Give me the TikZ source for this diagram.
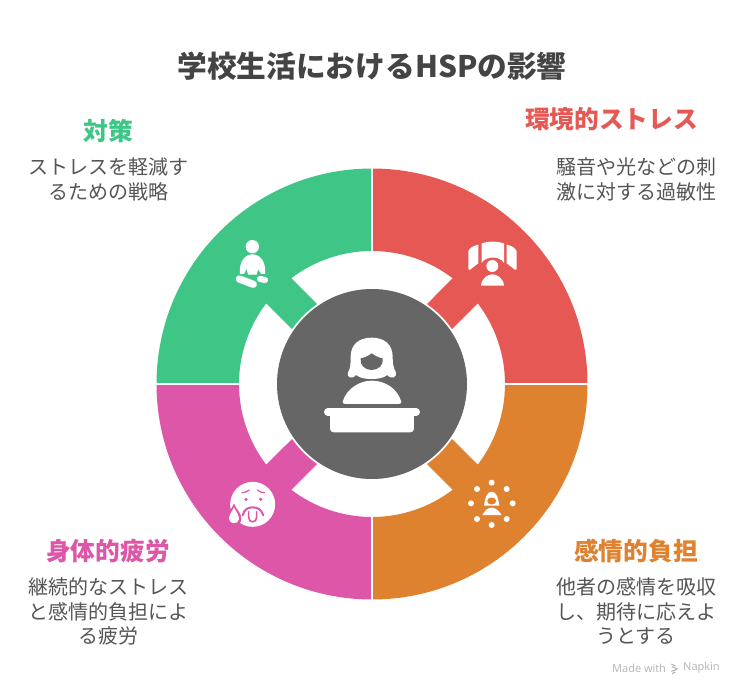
\documentclass[tikz,border=0pt]{standalone}
\usepackage{fontspec}
\setmainfont{Noto Sans CJK JP}
\newfontfamily\latinfont{Open Sans}
\definecolor{cred}{HTML}{E65853}
\definecolor{corange}{HTML}{DE8230}
\definecolor{cpink}{HTML}{DE56A8}
\definecolor{cgreen}{HTML}{3FC687}
\definecolor{cgrey}{HTML}{666666}
\definecolor{ctitle}{HTML}{444444}
\definecolor{cbody}{HTML}{555555}
\definecolor{cmark}{HTML}{B4B4B4}
\tikzset{
  titletext/.style={text=ctitle,font=\bfseries\fontsize{29.7}{36}\selectfont,inner sep=0pt},
  headtext/.style={font=\bfseries\fontsize{24.7}{30}\selectfont,inner sep=0pt},
  bodytext/.style={text=cbody,font=\fontsize{20}{24.5}\selectfont,align=center,inner sep=0pt},
  marktext/.style={text=cmark,font=\latinfont\fontsize{11}{14}\selectfont,inner sep=0pt},
  iconzoom/.style={x=0.3333pt,y=-0.3333pt}
}
\newcommand{\sectorshape}[2]{%
  \fill[#2] (#1:215.5) arc[start angle=#1,end angle=#1+90,radius=215.5]
    -- ({#1+90}:133) arc[start angle=#1+90,end angle=#1+52.65,radius=133]
    -- ({#1+55.5}:97) arc[start angle=#1+55.5,end angle=#1+34.5,radius=97]
    -- ({#1+37.35}:133) arc[start angle=#1+37.35,end angle=#1,radius=133] -- cycle;}
\begin{document}
\begin{tikzpicture}[x=1pt,y=-1pt]
\useasboundingbox (0,0) rectangle (744,696);
\fill[white] (0,0) rectangle (744,696);
% ring sectors
\begin{scope}[shift={(372,384)},y=1pt]
  \sectorshape{0}{cred}
  \sectorshape{90}{cgreen}
  \sectorshape{180}{cpink}
  \sectorshape{270}{corange}
\end{scope}
\draw[white,line width=2pt] (372,160) -- (372,608);
\draw[white,line width=2pt] (150,384) -- (594,384);
\fill[cgrey] (372,384) circle[radius=95];
% centre icon
\begin{scope}[shift={(310,325)},iconzoom]
  \fill[white] (185,38) .. controls (225,38) and (248,60) .. (248,95)
    .. controls (248,115) and (250,130) .. (258,142)
    .. controls (262,156) and (245,165) .. (232,150)
    .. controls (220,160) and (200,162) .. (185,162)
    .. controls (170,162) and (150,160) .. (138,150)
    .. controls (125,165) and (108,156) .. (114,142)
    .. controls (122,130) and (122,115) .. (122,95)
    .. controls (122,60) and (145,38) .. (185,38) -- cycle;
  \fill[cgrey] (185,85) .. controls (175,92) and (165,98) .. (152,100)
    .. controls (148,120) and (165,135) .. (185,135)
    .. controls (205,135) and (222,120) .. (218,100)
    .. controls (205,98) and (195,92) .. (185,85) -- cycle;
  \fill[white] (98,230) .. controls (110,190) and (150,167) .. (185,167)
    .. controls (225,167) and (262,190) .. (274,230)
    .. controls (275,235) and (270,237) .. (265,237) -- (107,237)
    .. controls (102,237) and (97,235) .. (98,230) -- cycle;
  \draw[white,line width=7.3pt,line cap=round] (53,261) -- (319,261);
  \fill[white,rounded corners=3.5pt] (60,258) rectangle (312,322);
\end{scope}
% meditation icon
\begin{scope}[shift={(220,230)},iconzoom]
  \fill[white] (97,50) circle[radius=6.7pt];
  \fill[white] (60,132) .. controls (56,95) and (75,73) .. (97,73)
    .. controls (120,73) and (139,95) .. (135,132)
    -- (124,132) -- (114,118) -- (110,134) -- (84,134) -- (80,116) -- (72,132) -- cycle;
  \draw[white,line width=7.3pt,line cap=round] (58,147) -- (100,163);
  \draw[white,line width=6pt,line cap=round] (120,147) -- (135,150);
\end{scope}
% stimuli icon
\begin{scope}[shift={(455,235)},iconzoom]
  \fill[white] (80,25) .. controls (100,18) and (125,18) .. (147,25) -- (147,84)
    .. controls (135,62) and (92,62) .. (80,84) -- cycle;
  \fill[white] (40,48) .. controls (45,38) and (55,32) .. (70,29) -- (70,85) -- (44,105) -- (40,102) -- cycle;
  \fill[white] (185,48) .. controls (180,38) and (170,32) .. (155,29) -- (155,85) -- (181,105) -- (185,102) -- cycle;
  \fill[white] (112,93) circle[radius=6pt];
  \fill[white] (78,152) .. controls (80,128) and (100,118) .. (112,118)
    .. controls (125,118) and (145,128) .. (147,152) -- cycle;
\end{scope}
% empathy icon
\begin{scope}[shift={(455,470)},iconzoom]
  \foreach \px/\py in {110/38,155/57,173/100,155/147,110/165,66/147,48/100,66/57}
    \fill[white] (\px,\py) circle[radius=3pt];
  \fill[white] (110,65) .. controls (125,65) and (130,85) .. (133,107) -- (87,107)
    .. controls (90,85) and (95,65) .. (110,65) -- cycle;
  \fill[corange] (110,93) ellipse[x radius=4.5pt,y radius=3.5pt];
  \fill[white] (82,135) .. controls (90,120) and (100,113) .. (110,113)
    .. controls (120,113) and (130,120) .. (140,135) -- cycle;
\end{scope}
% fatigue icon
\begin{scope}[shift={(220,470)},iconzoom]
  \fill[white] (98,103) circle[radius=22.5pt];
  \fill[cpink] (42,100) .. controls (38,115) and (18,130) .. (20,148)
    .. controls (22,172) and (62,172) .. (64,148) .. controls (66,130) and (46,115) .. (42,100) -- cycle;
  \fill[white] (42,112) .. controls (38,122) and (26,135) .. (27,147)
    .. controls (29,164) and (55,164) .. (57,147) .. controls (58,135) and (46,122) .. (42,112) -- cycle;
  \draw[cpink,line width=1.2pt,line cap=round] (66,68) .. controls (72,68) and (80,66) .. (88,60);
  \draw[cpink,line width=1.2pt,line cap=round] (112,60) .. controls (118,66) and (126,68) .. (134,68);
  \fill[cpink] (78,88) circle[radius=1.8pt];
  \fill[cpink] (122,88) circle[radius=1.8pt];
  \draw[cpink,line width=2pt,line cap=round] (68,136) .. controls (72,118) and (84,112) .. (98,112)
    .. controls (112,112) and (124,118) .. (130,136);
  \draw[cpink,line width=1.6pt,line cap=round] (86,125) -- (86,142) .. controls (86,160) and (110,160) .. (110,142) -- (110,125);
\end{scope}
% texts
\node[titletext] (title) at (372,66) {学校生活におけるHSPの影響};
\node[headtext,text=cred] (h1) at (611.5,119) {環境的ストレス};
\node[bodytext] (b1) at (636.5,179.5) {騒音や光などの刺\\激に対する過敏性};
\node[headtext,text=cgreen] (h2) at (108,131) {対策};
\node[bodytext] (b2) at (108,179.5) {ストレスを軽減す\\るための戦略};
\node[headtext,text=corange] (h3) at (636,551) {感情的負担};
\node[bodytext] (b3) at (636,611.5) {他者の感情を吸収\\し、期待に応えよ\\うとする};
\node[headtext,text=cpink] (h4) at (108,551) {身体的疲労};
\node[bodytext] (b4) at (108,611.5) {継続的なストレス\\と感情的負担によ\\る疲労};
% watermark
\node[marktext,anchor=west] (m1) at (612,668) {Made with};
\node[marktext,anchor=west] (m2) at (683,668) {Napkin};
\begin{scope}[shift={(600,650)},iconzoom]
  \draw[cmark,line width=1.1pt] (214,42) -- (226,48);
  \draw[cmark,line width=1.1pt] (216,50) -- (232,56);
  \draw[cmark,line width=1.1pt] (232,58) -- (214,64);
  \draw[cmark,line width=1.1pt] (226,66) -- (216,71);
\end{scope}
\end{tikzpicture}
\end{document}
